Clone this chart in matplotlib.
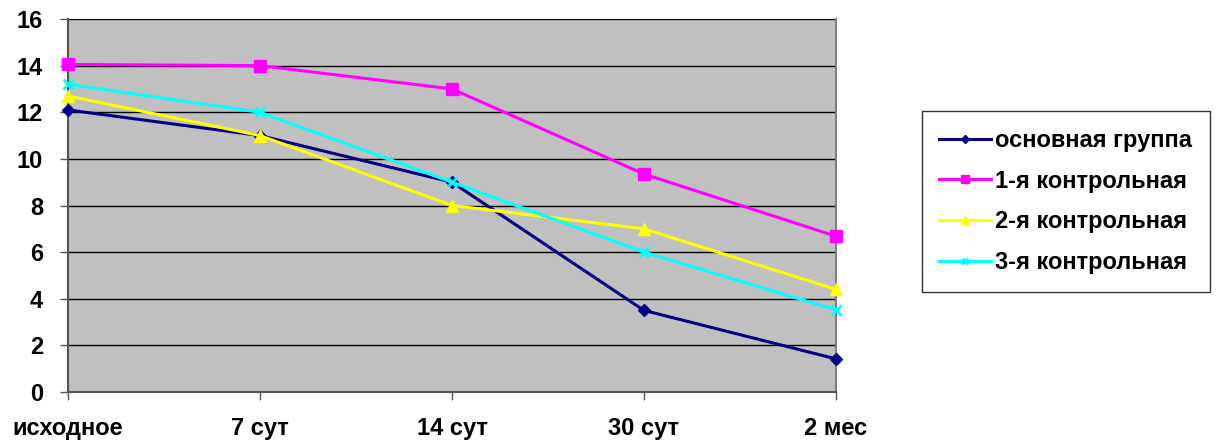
import matplotlib.pyplot as plt
from matplotlib.lines import Line2D

plt.rcParams['font.family'] = ['Liberation Sans', 'DejaVu Sans']
plt.rcParams['font.weight'] = 'bold'

# Сроки наблюдения и значения по группам
periods = ['исходное', '7 сут', '14 сут', '30 сут', '2 мес']
main_group = [12.1, 11.0, 9.0, 3.5, 1.42]
control_1 = [14.05, 14.0, 13.0, 9.35, 6.68]
control_2 = [12.7, 11.0, 8.0, 7.0, 4.4]
control_3 = [13.2, 12.0, 9.0, 6.0, 3.52]

labels = ['основная группа', '1-я контрольная', '2-я контрольная', '3-я контрольная']
colors = ['#000080', '#FF00FF', '#FFFF00', '#00FFFF']
markers = ['D', 's', '^', 'x']
msizes = [6, 8, 8, 7]

fig = plt.figure(figsize=(12.16, 4.43), dpi=100)
ax = fig.add_axes([0.0559, 0.1151, 0.6316, 0.842])
ax.set_facecolor('#C0C0C0')

x = range(len(periods))
series = [main_group, control_1, control_2, control_3]
handles = []
for vals, c, m, ms, lab in zip(series, colors, markers, msizes, labels):
    mew = 2 if m == 'x' else 1
    ax.plot(x, vals, color=c, marker=m, markersize=ms, markeredgewidth=mew,
            linewidth=2.2, label=lab, zorder=3, clip_on=False)
    handles.append(Line2D([], [], color=c, marker=m, markersize=ms - 2,
                          markeredgewidth=mew, linewidth=2.2))

ax.set_xlim(0, 4)
ax.set_ylim(0, 16)
ax.set_yticks(range(0, 17, 2))
ax.set_xticks(list(x))
ax.set_xticklabels(periods)
ax.yaxis.grid(True, color='black', linewidth=1)
ax.set_axisbelow(True)
ax.tick_params(axis='both', direction='out', length=6, labelsize=17, width=1, color='#555555')
ax.tick_params(axis='x', pad=12)
ax.tick_params(axis='y', pad=12)
for lbl in ax.get_xticklabels() + ax.get_yticklabels():
    lbl.set_fontweight('bold')

ax.spines['top'].set_visible(False)
ax.spines['right'].set_color('#808080')
ax.spines['right'].set_linewidth(1.5)
for side in ['left', 'bottom']:
    ax.spines[side].set_color('#555555')
    ax.spines[side].set_linewidth(1.5)

leg = fig.legend(handles, labels, loc='upper left', bbox_to_anchor=(0.758, 0.749),
                 frameon=True, fancybox=False, prop={'size': 17, 'weight': 'bold'},
                 handlelength=2.2, labelspacing=0.75, handletextpad=0.15,
                 borderpad=0.75, borderaxespad=0)
leg.get_frame().set_edgecolor('black')
leg.get_frame().set_linewidth(1)

fig.savefig('out.png', dpi=100)
